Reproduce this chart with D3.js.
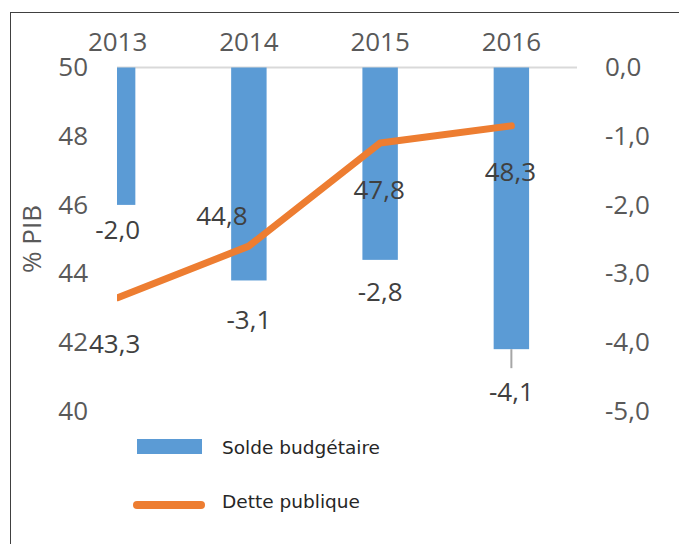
<!DOCTYPE html>
<html>
<head>
<meta charset="utf-8">
<script src="https://cdn.jsdelivr.net/npm/d3@7"></script>
<style>
  body { margin: 0; background: #fff; }
  svg { display: block; }
</style>
</head>
<body>
<div id="chart"></div>
<script>
// data
const years = ["2013", "2014", "2015", "2016"];
const soldeBudgetaire = [-2.0, -3.1, -2.8, -4.1];
const dettePublique = [43.3, 44.8, 47.8, 48.3];
const leftTicks = [40, 42, 44, 46, 48, 50];
const rightTicks = [0, -1, -2, -3, -4, -5];
const seriesNames = ["Solde budgétaire", "Dette publique"];

const svgWidth = 679;
const svgHeight = 544;

const blue = "#5b9bd5";
const orange = "#ed7d31";
const axisGrey = "#595959";
const labelGrey = "#404040";

// label nudges (as placed by hand in the original)
const soldeLabelDy = [25, 39, 32, 42];
const detteLabelShift = [[-3, 46], [-27, -30], [-1, 47], [-1, 46]];

const fr = d3.formatLocale({decimal: ",", thousands: " ", grouping: [3], currency: ["", " €"], minus: "-"});
const fmt = fr.format(".1f");

let svg = d3.select("#chart").append("svg")
    .attr("width", svgWidth).attr("height", svgHeight)
    .style("font-family", "'Open Sans', sans-serif");

// outer frame
svg.append("rect")
    .attr("x", 10.5).attr("y", 12.5)
    .attr("width", 720).attr("height", 600)
    .attr("fill", "none").attr("stroke", "#404040").attr("stroke-width", 1);

const plotLeft = 117, plotRight = 577, plotTop = 67.5, plotBottom = 411;

let x = d3.scaleBand()
    .domain(years)
    .range([52, 577])
    .paddingInner(0.73)
    .paddingOuter(0.365);
const xc = d => x(d) + x.bandwidth() / 2;

let yLeft = d3.scaleLinear().domain([40, 50]).range([plotBottom, plotTop]);
let yRight = d3.scaleLinear().domain([-5, 0]).range([plotBottom, plotTop]);

svg.append("defs").append("clipPath").attr("id", "plotClip")
  .append("rect")
    .attr("x", plotLeft).attr("y", plotTop - 10)
    .attr("width", plotRight - plotLeft).attr("height", plotBottom - plotTop + 20);

// zero line
svg.append("line")
    .attr("x1", plotLeft).attr("x2", plotRight)
    .attr("y1", yRight(0)).attr("y2", yRight(0))
    .attr("stroke", "#d9d9d9").attr("stroke-width", 2);

let plot = svg.append("g").attr("clip-path", "url(#plotClip)");

// bars
plot.selectAll("rect.bar")
    .data(years)
    .enter()
    .append("rect")
        .attr("class", "bar")
        .attr("x", d => x(d))
        .attr("y", yRight(0))
        .attr("width", x.bandwidth())
        .attr("height", (d, i) => yRight(soldeBudgetaire[i]) - yRight(0))
        .attr("fill", blue);

// line
let line = d3.line()
    .x((d, i) => xc(years[i]))
    .y(d => yLeft(d));

plot.append("path")
    .datum(dettePublique)
    .attr("d", line)
    .attr("fill", "none")
    .attr("stroke", orange)
    .attr("stroke-width", 7)
    .attr("stroke-linejoin", "round")
    .attr("stroke-linecap", "round");

// axes
const styleAxis = g => {
    g.select(".domain").remove();
    g.selectAll("text")
        .attr("fill", axisGrey)
        .style("font-size", "26px")
        .style("font-family", "'Open Sans', sans-serif");
};

svg.append("g")
    .attr("transform", `translate(0,${plotTop})`)
    .call(d3.axisTop(x).tickSize(0).tickPadding(17))
    .call(styleAxis);

svg.append("g")
    .attr("transform", "translate(88,0)")
    .call(d3.axisLeft(yLeft).tickValues(leftTicks).tickSize(0).tickPadding(0).tickFormat(d3.format("d")))
    .call(styleAxis);

svg.append("g")
    .attr("transform", "translate(605,0)")
    .call(d3.axisRight(yRight).tickValues(rightTicks).tickSize(0).tickPadding(0).tickFormat(fmt))
    .call(styleAxis);

svg.append("text")
    .attr("transform", "translate(32,239) rotate(-90)")
    .attr("text-anchor", "middle")
    .attr("dy", "0.35em")
    .attr("fill", axisGrey)
    .style("font-size", "26px")
    .text("% PIB");

// leader line for the last bar label
svg.append("line")
    .attr("x1", xc(years[3])).attr("x2", xc(years[3]))
    .attr("y1", yRight(soldeBudgetaire[3])).attr("y2", yRight(soldeBudgetaire[3]) + 19)
    .attr("stroke", "#a6a6a6").attr("stroke-width", 2);

// data labels
svg.append("g").selectAll("text")
    .data(years)
    .enter()
    .append("text")
        .attr("x", d => xc(d))
        .attr("y", (d, i) => yRight(soldeBudgetaire[i]) + soldeLabelDy[i])
        .attr("dy", "0.36em")
        .attr("text-anchor", "middle")
        .attr("fill", labelGrey)
        .style("font-size", "26px")
        .text((d, i) => fmt(soldeBudgetaire[i]));

svg.append("g").selectAll("text")
    .data(years)
    .enter()
    .append("text")
        .attr("x", (d, i) => xc(d) + detteLabelShift[i][0])
        .attr("y", (d, i) => yLeft(dettePublique[i]) + detteLabelShift[i][1])
        .attr("dy", "0.36em")
        .attr("text-anchor", "middle")
        .attr("fill", labelGrey)
        .style("font-size", "26px")
        .text((d, i) => fmt(dettePublique[i]));

// legend
let legend = svg.append("g").style("font-family", "'DejaVu Sans', Verdana, sans-serif");

legend.append("rect")
    .attr("x", 137).attr("y", 439)
    .attr("width", 65).attr("height", 15)
    .attr("fill", blue);

legend.append("line")
    .attr("x1", 137).attr("x2", 201)
    .attr("y1", 505).attr("y2", 505)
    .attr("stroke", orange).attr("stroke-width", 8)
    .attr("stroke-linecap", "round");

legend.selectAll("text.leg")
    .data(seriesNames)
    .enter()
    .append("text")
        .attr("class", "leg")
        .attr("x", 222)
        .attr("y", (d, i) => 448 + i * 54)
        .attr("dy", "0.36em")
        .attr("fill", "#262626")
        .style("font-size", "18px")
        .attr("textLength", (d, i) => i === 0 ? 158 : 138)
        .attr("lengthAdjust", "spacingAndGlyphs")
        .text(d => d);
</script>
</body>
</html>
